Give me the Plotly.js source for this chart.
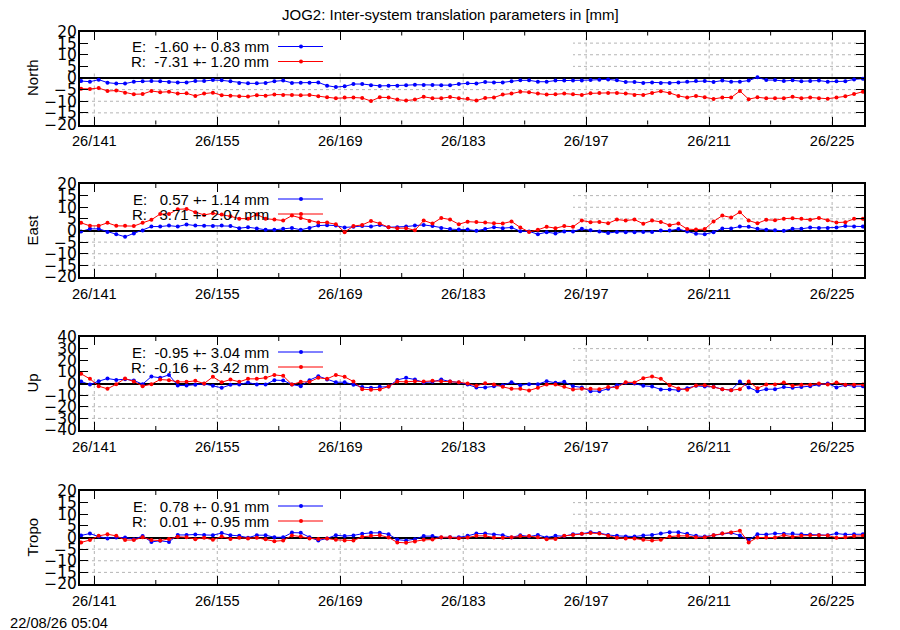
<!DOCTYPE html>
<html>
<head>
<meta charset="utf-8">
<script src="https://cdn.plot.ly/plotly-3.0.1.min.js"></script>
<style>html,body{margin:0;padding:0;background:#fff;}#chart{width:900px;height:630px;}</style>
</head>
<body>
<div id="chart"></div>
<script>
// ---------- data ----------
const chartTitle = "JOG2: Inter-system translation parameters in [mm]";
const timeStamp = "22/08/26 05:04";
const yearPrefix = "26";
const firstDay = 139;
const lastDay = 228;
const majorDays = [141, 155, 169, 183, 197, 211, 225];
const minorDays = [148, 162, 176, 190, 204, 218];

const panelNames = ["North", "East", "Up", "Tropo"];
const panelRanges = [[-20, 20], [-20, 20], [-40, 40], [-20, 20]];
const panelSteps = [5, 5, 10, 5];

const labelsE = ["E:  -1.60 +- 0.83 mm", "E:   0.57 +- 1.14 mm", "E:  -0.95 +- 3.04 mm", "E:   0.78 +- 0.91 mm"];
const labelsR = ["R:  -7.31 +- 1.20 mm", "R:   3.71 +- 2.07 mm", "R:  -0.16 +- 3.42 mm", "R:   0.01 +- 0.95 mm"];

const northE = [-1.3,-1.6,-0.7,-2.0,-2.4,-2.4,-1.6,-1.4,-1.3,-1.4,
  -1.7,-1.9,-1.9,-1.3,-1.3,-0.9,-1.0,-1.4,-2.1,-2.3,
  -2.3,-2.1,-1.4,-1.1,-2.1,-2.0,-2.0,-1.9,-3.3,-3.9,
  -3.6,-2.6,-2.6,-3.1,-3.4,-3.3,-3.3,-3.1,-2.9,-3.0,
  -3.0,-3.1,-3.1,-2.6,-2.3,-2.4,-1.7,-1.9,-1.9,-1.4,
  -1.0,-1.0,-1.6,-1.6,-1.1,-1.1,-1.1,-1.1,-0.9,-0.7,
  -0.6,-1.0,-1.7,-1.7,-2.1,-1.9,-2.1,-2.1,-1.9,-1.6,
  -1.3,-1.3,-1.7,-1.1,-1.6,-1.6,-1.1,0.3,-0.9,-0.9,
  -1.3,-1.0,-1.4,-1.3,-1.1,-1.6,-1.4,-1.4,-0.6,-0.3];
const northR = [-4.6,-4.7,-4.3,-5.6,-5.4,-6.3,-7.0,-6.9,-5.6,-6.1,
  -5.9,-6.7,-6.6,-7.7,-6.7,-6.3,-7.4,-7.6,-7.9,-8.0,
  -7.4,-7.6,-7.1,-7.3,-7.3,-7.4,-7.3,-7.9,-8.3,-8.7,
  -8.4,-8.4,-8.6,-9.9,-8.3,-8.4,-9.3,-9.7,-9.3,-8.1,
  -8.7,-8.7,-8.2,-8.7,-8.9,-9.7,-8.6,-8.4,-7.1,-6.7,
  -5.9,-6.1,-6.7,-7.1,-7.0,-6.7,-7.0,-7.3,-6.6,-6.4,
  -6.4,-6.4,-6.7,-7.3,-7.3,-6.4,-5.7,-6.4,-7.7,-8.4,
  -7.7,-8.3,-9.0,-8.4,-8.4,-5.6,-9.1,-8.3,-8.7,-8.7,
  -8.7,-8.1,-8.7,-8.4,-8.7,-8.9,-8.4,-7.9,-6.9,-5.9];

const eastE = [-0.4,0.7,0.7,-0.6,-1.6,-2.7,-1.3,0,1.7,1.7,
  2.1,1.7,2.6,2.1,2.0,1.9,2.1,1.9,1.0,1.4,
  0.9,0.3,0.3,0.7,1.1,0.3,1.1,2.1,2.3,2.1,
  1.3,1.6,1.9,1.7,2.4,1.4,1.4,1.7,2.1,2.4,
  1.9,1.1,0.6,0.4,0.4,-0.1,0.6,1.4,1.0,1.3,
  -0.3,-0.4,-1.6,-0.7,-1.3,-0.4,-0.4,0.7,0.1,-0.4,
  -1.1,-0.6,-0.7,-0.7,-0.6,-0.6,0,0,0.6,-0.4,
  -1.4,-1.6,-0.7,0.9,0.9,1.7,1.6,0.7,0.3,0.1,
  -0.1,0.7,0.7,1.3,1.1,1.1,1.3,1.9,1.7,1.7];
const eastR = [3.3,2.0,2.0,3.3,2.0,2.0,1.9,3.3,4.6,7.1,
  7.1,9.1,9.3,7.9,6.7,7.4,6.9,6.1,5.1,5.1,
  6.9,5.1,4.7,4.3,6.4,5.4,4.1,3.4,3.4,2.7,
  -0.7,1.9,2.4,4.1,3.0,1.4,1.0,1.0,0.1,4.3,
  3.0,5.4,4.7,2.7,3.8,3.7,3.4,3.1,3.0,3.9,
  1.3,-0.6,0.3,1.6,1.0,1.9,1.6,4.3,3.6,3.7,
  3.1,4.7,4.3,4.7,2.9,4.3,3.7,2.3,3.0,0.6,
  0.4,0.6,3.9,6.4,5.6,7.9,4.3,3.1,4.6,4.4,
  5.1,5.3,5.0,4.6,5.4,4.4,3.4,3.6,5.0,5.0];

const upE = [1.7,-0.9,2.0,4.3,3.1,3.7,2.6,-0.6,6.0,4.9,
  7.4,-1.7,-1.7,-1.1,-0.3,-2.0,-3.7,-1.1,-0.9,0.9,
  -0.9,-0.9,2.9,2.6,-0.9,-2.3,2.9,6.3,3.4,1.1,
  1.1,-1.1,-3.1,-3.7,-2.9,-2.6,3.1,4.9,3.4,0.9,
  1.4,3.4,1.7,0.9,-0.9,-3.4,-3.4,-2.3,-1.4,1.1,
  -1.4,-0.6,-0.6,2.0,0.6,1.4,-2.3,-3.4,-6.6,-6.6,
  -4.6,-1.4,0.6,0,-2.0,-2.6,-5.1,-5.1,-5.7,-4.0,
  -2.0,-2.6,-2.9,-4.9,-5.7,1.7,-3.4,-6.6,-4.9,-4.9,
  -3.1,-3.7,-3.1,-2.3,-1.1,0,-3.4,-1.4,-2.3,-2.3];
const upR = [8.3,4.0,-2.3,-4.6,-0.6,4.3,1.7,-2.3,-0.6,3.4,
  2.9,1.4,1.4,2.3,0,5.7,1.1,3.4,1.4,4.0,
  4.0,4.9,7.4,6.6,-0.9,1.4,1.4,4.9,4.0,7.4,
  5.7,1.7,-4.9,-5.4,-5.1,-2.6,1.7,1.4,2.0,1.7,
  2.3,2.0,1.7,1.1,0,-2.0,0.3,-0.9,-2.9,-4.6,
  -4.6,-6.0,-3.7,-0.9,-0.9,-2.9,-5.1,-4.6,-4.6,-4.9,
  -3.1,-3.4,1.1,0.9,4.6,6.0,4.0,-1.4,-4.3,-5.4,
  -1.7,-1.4,-3.1,-4.9,-5.7,-4.9,1.7,-4.0,-0.9,-0.9,
  0.9,-2.0,-1.1,-1.1,0,-0.9,0.9,-1.1,-1.1,-0.9];

const tropoE = [0.9,1.7,0.4,-0.4,0,0,-0.7,0.6,-1.9,-1.4,
  -1.9,1.1,1.1,1.3,1.1,1.0,1.9,1.0,0.7,-0.1,
  1.0,1.0,0.1,0.1,2.1,2.0,0.1,-1.3,-0.4,1.0,
  0.6,0.9,1.6,2.0,2.0,1.4,-0.9,-1.3,-0.7,0.6,
  0.6,0,0.1,0.1,0.7,1.7,1.7,1.3,1.0,0,
  1.0,0.4,1.1,0,0.7,0.6,1.4,1.6,2.3,1.9,
  1.1,0.7,0.4,0.4,0.9,1.1,1.7,2.3,2.3,1.6,
  0.7,0.4,1.0,1.7,2.0,0.9,-1.1,1.4,1.3,1.7,
  1.6,1.7,1.4,1.3,1.1,1.0,1.7,1.3,1.4,1.4];
const tropoR = [-2.1,-1.1,0.7,1.4,0.7,-1.1,-1.1,0.1,-1.1,-1.3,
  -0.6,0.3,0.1,-0.7,-0.1,-1.0,0.4,-0.6,-0.1,-0.4,
  -0.1,-0.7,-1.6,-1.3,0.9,0.4,-0.4,-0.6,-0.4,-1.0,
  -1.3,-1.3,0.3,0.7,1.0,0,-2.1,-2.3,-1.7,-1.0,
  -0.9,0.1,0.1,-0.3,0,0.7,0.7,0,-0.1,0.1,
  0.6,0.6,0.1,-0.7,-0.6,0.7,1.1,1.6,1.9,1.7,
  0.7,-0.1,-0.4,-0.4,-1.0,-1.3,-1.0,0.4,0.7,0.7,
  0.1,0.1,1.0,1.7,2.1,2.9,-2.1,0,0,0,
  1.0,0.3,0.7,1.0,1.0,0.9,-0.1,0.1,0.6,0.7];

const seriesE = [northE, eastE, upE, tropoE];
const seriesR = [northR, eastR, upR, tropoR];

// ---------- build ----------
const W = 900, H = 630;
const colE = "#0000ff", colR = "#ff0000";
const FONT = "Liberation Sans, Arial, sans-serif";
const TICKFONT = "DejaVu Sans, Liberation Sans, sans-serif";
const GRID = "#b4b4b4";

// epochs: noon of each day of year
const epochs = [];
for (let d = firstDay; d <= lastDay; d++) epochs.push(d + 0.5);

const frameL = 80, frameR = 864;
const fx = px => (px - frameL) / (frameR - frameL);
const panelTop = [31.5, 184, 337, 491];
const panelH = 93;
const xDomain = [frameL / W, frameR / W];
const xRange = [139.37, 228.63];

const data = [];
const layout = {
  width: W, height: H,
  margin: {l: 0, r: 0, t: 0, b: 0},
  paper_bgcolor: "#fff", plot_bgcolor: "#fff",
  showlegend: false,
  font: {family: FONT, size: 14, color: "#000"},
  shapes: [], annotations: []
};

const tickText = majorDays.map(d => yearPrefix + "/" + d);

panelNames.forEach((name, p) => {
  const sfx = p === 0 ? "" : String(p + 1);
  const xa = "x" + sfx, ya = "y" + sfx;
  const top = panelTop[p], bot = top + panelH;
  const yDom = [1 - bot / H, 1 - top / H];
  const [ymin, ymax] = panelRanges[p];

  layout["xaxis" + sfx] = {
    domain: xDomain, anchor: ya, range: xRange,
    tickmode: "array", tickvals: majorDays, ticktext: tickText,
    ticks: "inside", ticklen: 8, tickwidth: 1, tickcolor: "#000",
    showgrid: false,
    showline: true, linecolor: "#000", linewidth: 2, mirror: "ticks",
    zeroline: false, automargin: false, fixedrange: true,
    ticklabelstandoff: 2,
    tickfont: {family: FONT, size: 14.6, color: "#000"}
  };
  layout["yaxis" + sfx] = {
    domain: yDom, anchor: xa,
    range: panelRanges[p], tickmode: "linear", tick0: 0, dtick: panelSteps[p],
    ticks: "inside", ticklen: 8, tickwidth: 1, tickcolor: "#000",
    showgrid: false,
    zeroline: true, zerolinecolor: "#000", zerolinewidth: 2,
    showline: true, linecolor: "#000", linewidth: 2, mirror: "ticks",
    automargin: false, fixedrange: true, ticklabelstandoff: -2,
    tickfont: {family: TICKFONT, size: 15.5, color: "#000"}
  };

  // dotted grid (drawn as shapes so the opaque key box can cover it)
  for (let v = ymin + panelSteps[p]; v < ymax; v += panelSteps[p]) {
    if (v === 0) continue;
    layout.shapes.push({type: "line", layer: "below", xref: xa + " domain", yref: ya,
      x0: 0, x1: 1, y0: v, y1: v, line: {color: GRID, width: 1, dash: "dot"}});
  }
  majorDays.forEach(d => {
    layout.shapes.push({type: "line", layer: "below", xref: xa, yref: ya + " domain",
      x0: d, x1: d, y0: 0, y1: 1, line: {color: GRID, width: 1, dash: "dot"}});
  });
  // minor x ticks (bottom and top)
  minorDays.forEach(d => {
    [[0, 4], [1, -4]].forEach(([anchorY, len]) => {
      layout.shapes.push({type: "line", layer: "above", xref: xa, yref: ya + " domain",
        ysizemode: "pixel", yanchor: anchorY,
        x0: d, x1: d, y0: 0, y1: len, line: {color: "#000", width: 1}});
    });
  });

  // opaque key box (covers grid, under data)
  layout.shapes.push({
    type: "rect", layer: "below", xref: xa + " domain", yref: ya + " domain",
    x0: 0, x1: fx(573), y0: 1 - 40 / panelH, y1: 1,
    fillcolor: "#fff", line: {width: 0}
  });

  const rows = [[labelsE[p], colE, 15], [labelsR[p], colR, 30]];
  rows.forEach(([txt, col, dy]) => {
    const yy = 1 - dy / panelH;
    layout.annotations.push({
      xref: xa + " domain", yref: ya + " domain",
      x: fx(271), y: yy, xanchor: "right", yanchor: "middle",
      text: txt.replace(/ /g, "&nbsp;"), showarrow: false,
      font: {family: FONT, size: 15, color: "#000"}
    });
    layout.shapes.push({
      type: "line", layer: "above", xref: xa + " domain", yref: ya + " domain",
      x0: fx(278), x1: fx(323), y0: yy, y1: yy, line: {color: col, width: 1}
    });
    layout.shapes.push({
      type: "circle", layer: "above", xref: xa + " domain", yref: ya + " domain",
      xsizemode: "pixel", ysizemode: "pixel",
      xanchor: fx(301), yanchor: yy,
      x0: -2, x1: 2, y0: -2, y1: 2,
      fillcolor: col, line: {color: col, width: 0}
    });
  });

  // y axis title
  layout.annotations.push({
    xref: "paper", yref: "paper", x: 32 / W, y: (yDom[0] + yDom[1]) / 2,
    xanchor: "center", yanchor: "middle", textangle: -90,
    text: name, showarrow: false, font: {family: FONT, size: 15, color: "#000"}
  });

  [[seriesE[p], colE], [seriesR[p], colR]].forEach(([vals, col]) => {
    data.push({
      type: "scatter", mode: "lines+markers", x: epochs, y: vals,
      xaxis: xa, yaxis: ya, cliponaxis: true,
      line: {color: col, width: 1},
      marker: {color: col, size: 4, symbol: "circle"},
      hoverinfo: "skip"
    });
  });
});

layout.annotations.push({
  xref: "paper", yref: "paper", x: 0.5, y: 1 - 14 / H,
  xanchor: "center", yanchor: "middle", text: chartTitle, showarrow: false,
  font: {family: FONT, size: 15, color: "#000"}
});
layout.annotations.push({
  xref: "paper", yref: "paper", x: 8 / W, y: 1 - 623 / H,
  xanchor: "left", yanchor: "middle", text: timeStamp, showarrow: false,
  font: {family: FONT, size: 14.7, color: "#000"}
});

Plotly.newPlot("chart", data, layout, {staticPlot: true, displayModeBar: false});
</script>
</body>
</html>
